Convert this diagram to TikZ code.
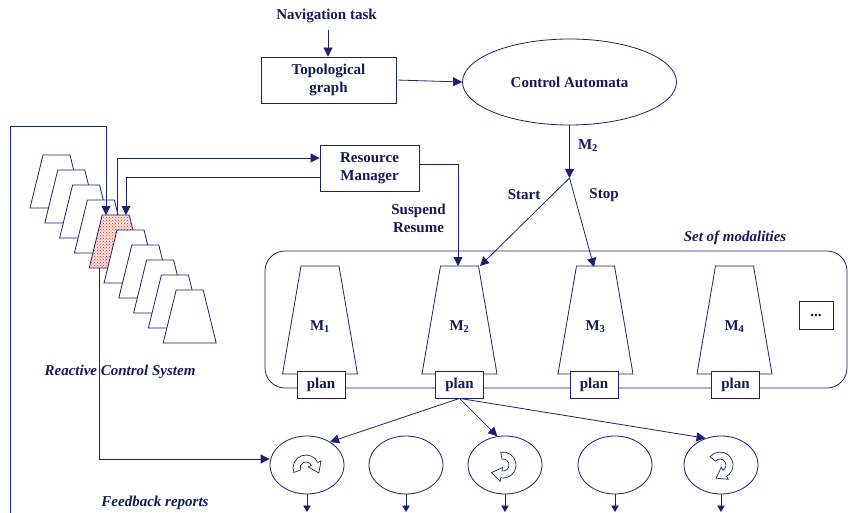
\documentclass[tikz,border=0pt]{standalone}
\usepackage{fontspec}
\setmainfont{Liberation Serif}
\usetikzlibrary{arrows.meta,shapes.geometric,patterns,calc}
\definecolor{navy}{RGB}{30,30,115}
\definecolor{txt}{RGB}{22,22,90}
\newcommand{\rotarrow}[5]{%
  \pgfmathsetmacro\tipang{#4+(#5)*90}%
  \draw[icon] ($(#1,#2)+(#3:13)$) arc[start angle=#3, end angle=#4, radius=13]
    -- ($(#1,#2)+(#4:16.5)$) -- ($(#1,#2)+(#4:9.5)+(\tipang:10)$)
    -- ($(#1,#2)+(#4:2.5)$) -- ($(#1,#2)+(#4:6)$)
    arc[start angle=#4, end angle=#3, radius=6] -- cycle;}
\begin{document}
\begin{tikzpicture}[x=1pt,y=-1pt,
  every node/.style={text=txt, font=\fontsize{15}{18}\selectfont\bfseries},
  lbl/.style={align=center, inner sep=0pt},
  ilbl/.style={inner sep=0pt, font=\fontsize{15}{18}\selectfont\bfseries\itshape},
  box/.style={draw=navy, line width=0.8pt, fill=white, align=center, inner sep=0pt},
  ell/.style={draw=navy, line width=0.8pt, fill=white, ellipse, inner sep=0pt},
  ln/.style={draw=navy, line width=0.8pt},
  arr/.style={draw=navy, line width=0.8pt, -{Triangle[length=9pt,width=9pt]}},
  sarr/.style={draw=navy, line width=0.8pt, -{Triangle[length=6.5pt,width=7.5pt]}},
  trap/.style={draw=navy, line width=0.8pt, fill=white},
  icon/.style={draw=navy, line width=0.7pt, fill=white}]
\useasboundingbox (0,0) rectangle (848,513);

% top part
\node[lbl] (nav) at (326.5,16) {Navigation task};
\node[box, minimum width=135pt, minimum height=46pt] (topo) at (328.5,80) {Topological\\graph};
\node[ell, minimum width=214pt, minimum height=86pt] (ca) at (569.5,82) {Control Automata};
\node[box, minimum width=99pt, minimum height=46pt] (rm) at (369.5,168) {Resource\\Manager};
\coordinate (navb) at (328,30);
\draw[arr] (navb) -- (navb |- topo.north);
\draw[arr, shorten <=2pt] (topo.east) -- (ca.west);
\coordinate (j) at (569.5,178);
\draw[arr] (ca.south) -- (j);
\node[lbl] (m2lbl) at (588,146) {M\textsubscript{2}};
\node[lbl] (start) at (524,195) {Start};
\node[lbl] (stop) at (604,195) {Stop};
\node[lbl] (susp) at (418.5,218) {Suspend\\Resume};

% set of modalities
\draw[ln, rounded corners=20pt] (265,251) rectangle (847,388);
\node[ilbl] (setmod) at (735,238) {Set of modalities};
\foreach \cx/\n/\px in {320/1/321, 459.5/2/459.5, 595.5/3/594, 734.5/4/735.5}{
  \draw[trap] (\cx-19,266) -- (\cx+19,266) -- (\cx+37.5,374) -- (\cx-37.5,374) -- cycle;
  \node[lbl] (mlab\n) at (\cx,327) {M\textsubscript{\n}};
  \node[box, minimum width=48pt, minimum height=27pt] (p\n) at (\px,384.5) {plan};
}
\node[box, minimum width=34pt, minimum height=28pt] (dots) at (816,315) {...};
\coordinate (m2a) at (458,266);
\coordinate (m2b) at (480,266);
\coordinate (m3a) at (594,267);
\draw[arr] (j) -- (m2b);
\draw[arr] (j) -- (m3a);
\draw[arr] ([yshift=4pt]rm.east) -| (m2a);

% reactive control system stack
\foreach \i in {0,...,9}{
  \pgfmathsetmacro\tx{43+14.8*\i}
  \pgfmathsetmacro\ty{155+15*\i}
  \ifnum\i=4
    \fill[red!10] (\tx,\ty) -- ++(27,0) -- ++(13,53) -- ++(-53,0) -- cycle;
    \fill[pattern=crosshatch dots, pattern color=red!75!orange] (\tx,\ty) -- ++(27,0) -- ++(13,53) -- ++(-53,0) -- cycle;
    \draw[ln] (\tx,\ty) -- ++(27,0) -- ++(13,53) -- ++(-53,0) -- cycle;
  \else
    \draw[trap] (\tx,\ty) -- ++(27,0) -- ++(13,53) -- ++(-53,0) -- cycle;
  \fi
}
\node[ilbl] (rcs) at (120,372) {Reactive Control System};
\coordinate (r1) at (106,215);
\coordinate (r2) at (117,215);
\coordinate (r3) at (126,215);
\coordinate (rb) at (99,268);
\coordinate (fb0) at (10,513);
\coordinate (fbc) at (10,126);
\draw[arr] (fb0) -- (fbc) -| (r1);
\draw[arr] (r2) |- ([yshift=10pt]rm.west);
\draw[arr] ([yshift=-9pt]rm.west) -| (r3);

% bottom behaviours
\foreach \cx/\n in {307/1, 406/2, 505/3, 615/4, 721/5}{
  \node[ell, minimum width=74pt, minimum height=58pt] (e\n) at (\cx,465) {};
}
\coordinate (bot) at (0,512);
\foreach \n in {1,...,5}{
  \draw[sarr] (e\n.south) -- (e\n.south |- bot);
}
\draw[arr] (rb) |- ([yshift=6pt]e1.west);
\draw[arr] (p2.south) -- (e1.45);
\draw[arr] (p2.south) -- (e3.105);
\draw[arr] (p2.south) -- (e5.120);
\rotarrow{306}{468}{-200}{-25}{1}
\rotarrow{503}{465}{-100}{100}{1}
\rotarrow{720}{465}{-140}{60}{1}
\node[ilbl] (fbr) at (155,503) {Feedback reports};
\end{tikzpicture}
\end{document}
